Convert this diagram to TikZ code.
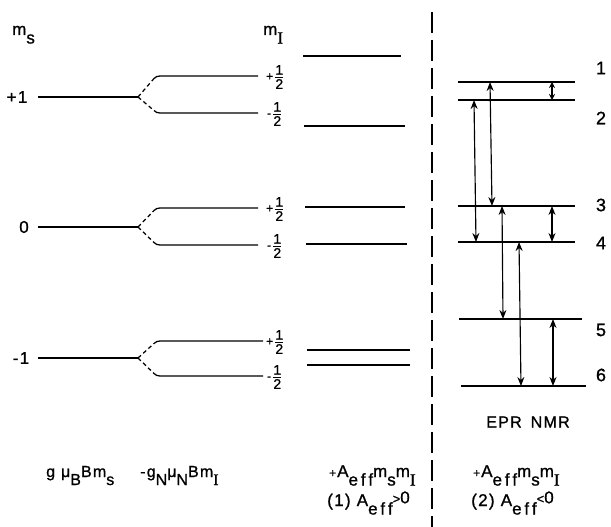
\documentclass[tikz,border=0pt]{standalone}
\usepackage{fontspec}
\setmainfont{Liberation Sans}[FakeBold=1]
\newfontfamily\lbfont{Liberation Sans}[FakeBold=1,LetterSpace=8]
\newfontfamily\serI{Liberation Serif}[FakeBold=1]
\usetikzlibrary{arrows.meta}
\newcommand\lo[1]{\raisebox{-0.95ex}{#1}}
\newcommand\Isub{\lo{\serI I}}
\newcommand\myfrac{$\frac{\mbox{1}}{\mbox{\rule{0pt}{11.5pt}2}}$}
\newcommand\halfp{{\fontsize{12}{12}\selectfont+}\hspace{1pt}\myfrac}
\newcommand\halfm{{\fontsize{12}{12}\selectfont-}\hspace{1pt}\myfrac}
\begin{document}
\begin{tikzpicture}[x=1pt,y=-1pt,
  level/.style={line width=1.25pt},
  branch/.style={line width=1.25pt,dash pattern=on 4pt off 3pt},
  sep/.style={line width=1.5pt,dash pattern=on 21pt off 7pt},
  trans/.style={line width=1.15pt,{Stealth[length=9pt,width=7pt]}-{Stealth[length=9pt,width=7pt]}},
  smalltrans/.style={line width=1.15pt,{Stealth[length=6pt,width=6pt]}-{Stealth[length=6pt,width=6pt]}},
  lbl/.style={font=\lbfont\fontsize{17}{19}\selectfont,inner sep=0pt},
  lvl/.style={font=\lbfont\fontsize{17}{19}\selectfont,inner sep=0pt},
  num/.style={font=\lbfont\fontsize{18}{20}\selectfont,inner sep=0pt},
  frac/.style={font=\fontsize{14}{14}\selectfont,inner sep=0pt,anchor=west},
  bot/.style={font=\lbfont\fontsize{16}{18}\selectfont,inner sep=0pt,anchor=base west},
  botw/.style={font=\lbfont\fontsize{17}{19}\selectfont,inner sep=0pt,anchor=base west}]
\useasboundingbox (0,0) rectangle (611,527);
\fill[white] (0,0) rectangle (611,527);

% column labels
\node[lbl,anchor=base west] (ms) at (12,35) {m\lo{s}};
\node[lbl,anchor=base west] (mI) at (263,35) {m\Isub};

% electron levels and nuclear splitting
\foreach \nm/\lab/\lx/\y/\u/\d/\xe in {p/+1/17/97/76/113/258, z/0/24/227/208/245/258, m/-1/21/358/341/376/263}{
  \node[lvl] (lab\nm) at (\lx,\y) {\lab};
  \coordinate (s\nm) at (38,\y);
  \coordinate (k\nm) at (138,\y);
  \coordinate (ua\nm) at (154,\u+2.5);
  \coordinate (ub\nm) at (\xe,\u);
  \coordinate (la\nm) at (154,\d-2.5);
  \coordinate (lb\nm) at (\xe,\d);
  \draw[level] (s\nm) -- (k\nm);
  \draw[branch] (k\nm) -- (ua\nm);
  \draw[branch] (k\nm) -- (la\nm);
  \draw[level] (ua\nm) to[out=45,in=180] ([xshift=6pt]ua\nm |- ub\nm) -- (ub\nm);
  \draw[level] (la\nm) to[out=-45,in=180] ([xshift=6pt]la\nm |- lb\nm) -- (lb\nm);
  \node[frac] (fu\nm) at (266,\u+1) {\halfp};
  \node[frac] (fl\nm) at (267,\d+1) {\halfm};
}

% column 3 levels (A_eff > 0)
\foreach \nm/\y/\xa/\xb in {a/56/303/401, b/126/304/405, c/207/305/405, d/244/306/407, e/350/307/410, f/365/307/410}{
  \coordinate (cl\nm) at (\xa,\y);
  \coordinate (cr\nm) at (\xb,\y);
  \draw[level] (cl\nm) -- (cr\nm);
}

% separator
\coordinate (septop) at (432,12);
\coordinate (sepbot) at (432,527);
\draw[sep] (septop) -- (sepbot);

% right column levels (A_eff < 0)
\foreach \nm/\y/\xa/\xb/\ly/\txt in {1/82/458/575/68/1, 2/100/458/575/118/2, 3/206/458/575/205/3, 4/242/458/575/243/4, 5/319/459/582/330/5, 6/386/461/586/375/6}{
  \coordinate (rl\nm) at (\xa,\y);
  \coordinate (rr\nm) at (\xb,\y);
  \draw[level] (rl\nm) -- (rr\nm);
  \node[num] (n\nm) at (601,\ly) {\txt};
}

% transitions
\coordinate (t12a) at (552,82);  \coordinate (t12b) at (552,100);
\coordinate (t24a) at (474,100); \coordinate (t24b) at (476,242);
\coordinate (t13a) at (490,82);  \coordinate (t13b) at (492,206);
\coordinate (t35a) at (502,206); \coordinate (t35b) at (503,319);
\coordinate (t34a) at (552,206); \coordinate (t34b) at (552,242);
\coordinate (t46a) at (519,242); \coordinate (t46b) at (521,386);
\coordinate (t56a) at (553,319); \coordinate (t56b) at (553,386);
\draw[smalltrans] (t12a) -- (t12b);
\draw[trans] (t24a) -- (t24b);
\draw[trans] (t13a) -- (t13b);
\draw[trans] (t35a) -- (t35b);
\draw[trans] (t34a) -- (t34b);
\draw[trans] (t46a) -- (t46b);
\draw[trans] (t56a) -- (t56b);

% bottom labels
\node[lbl,font=\lbfont\fontsize{16}{18}\selectfont] (eprnmr) at (528,422) {EPR\hspace{9pt}NMR};
\node[bot] (e1) at (46,477) {g\hspace{6pt}μ\lo{B}Bm\lo{s}};
\node[bot] (e2) at (140,477) {-g\lo{N}μ\lo{N}Bm\Isub};
\node[botw] (e3) at (329,477) {{\fontsize{12}{12}\selectfont+}\hspace{1pt}A\lo{e\,f\,f}m\lo{s}m\Isub};
\node[botw] (e4) at (473,477) {{\fontsize{12}{12}\selectfont+}\hspace{1pt}A\lo{e\,f\,f}m\lo{s}m\Isub};
\node[botw] (c1) at (327,506) {(1) A\lo{e\,f\,f}\raisebox{0.3ex}{{\fontsize{13}{13}\selectfont >}0}};
\node[botw] (c2) at (471,506) {(2) A\lo{e\,f\,f}\raisebox{0.3ex}{{\fontsize{13}{13}\selectfont <}0}};
\end{tikzpicture}
\end{document}
